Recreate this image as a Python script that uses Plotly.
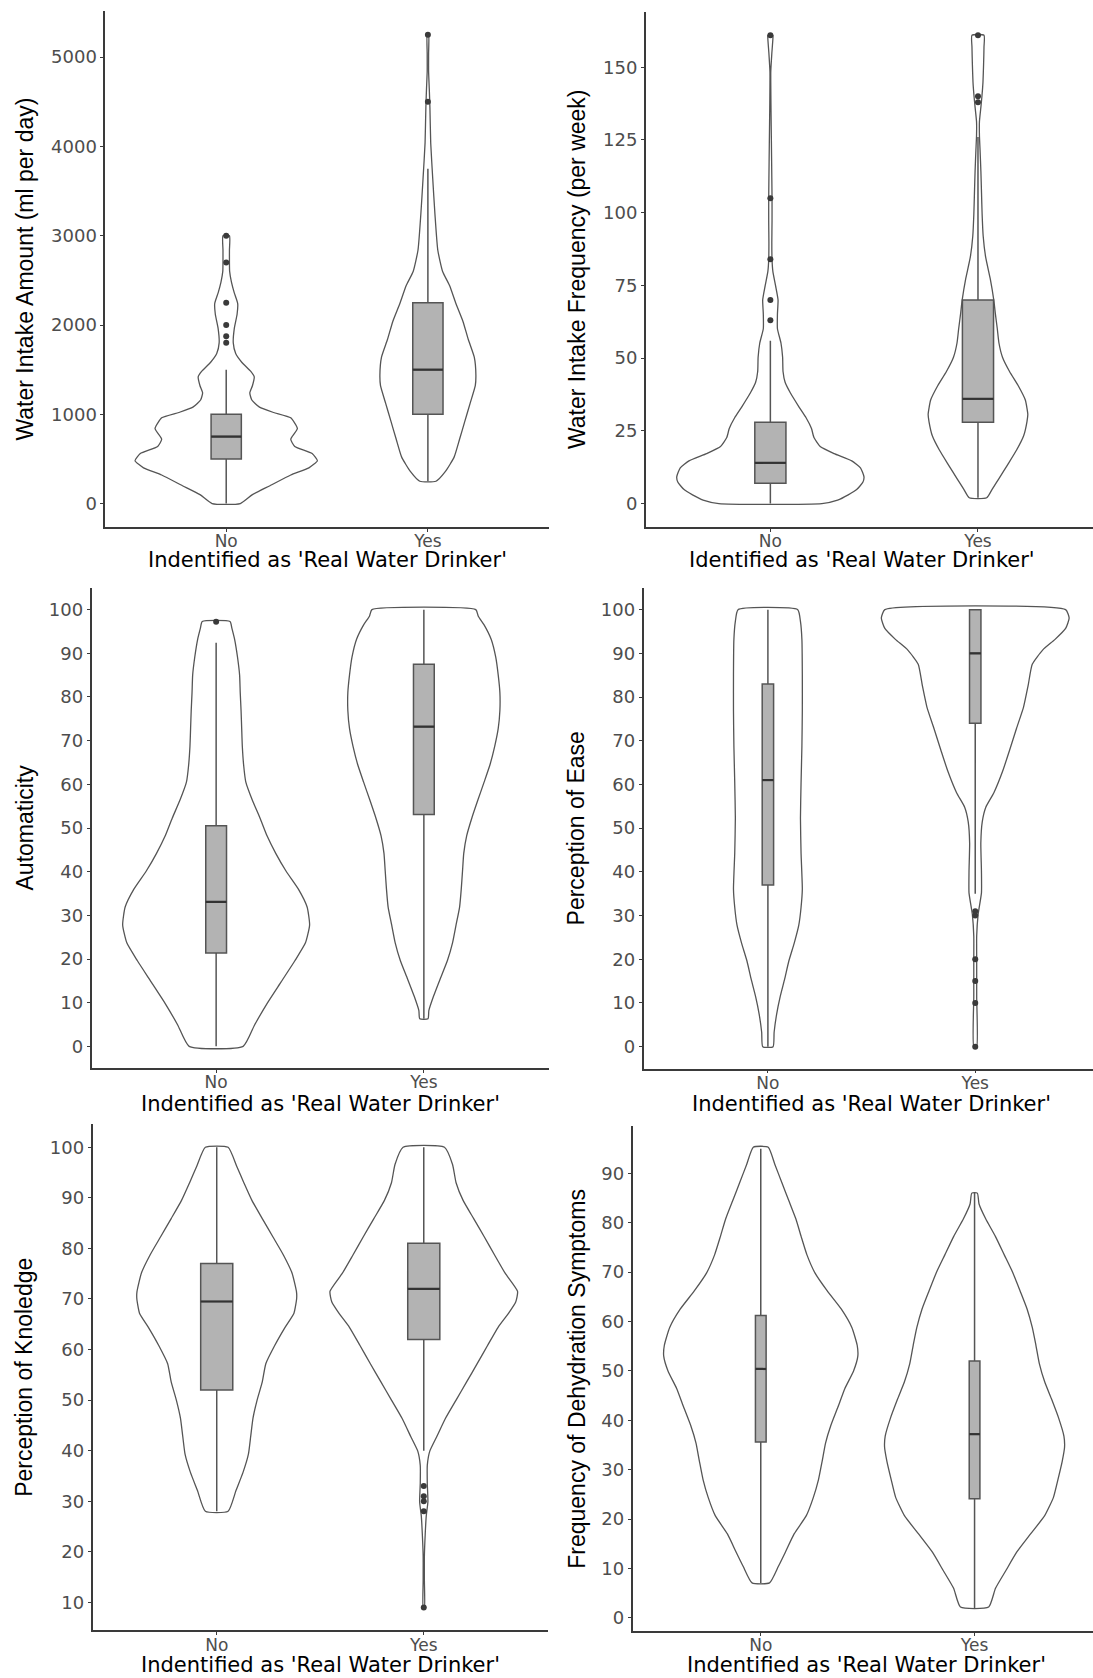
import plotly.graph_objects as go

W, H = 1093, 1678

categories = ["No", "Yes"]
x_title = "Indentified as 'Real Water Drinker'"
x_title_top_right = "Identified as 'Real Water Drinker'"

# ---------------- Panel 1: Water Intake Amount ----------------
p1_title = "Water Intake Amount (ml per day)"
p1_ticks = [0, 1000, 2000, 3000, 4000, 5000]
p1_no_y = [0, 100, 200, 320, 400, 480, 560, 640, 720, 840, 960, 1020, 1080, 1160, 1240, 1320,
           1420, 1480, 1580, 1680, 1800, 1960, 2120, 2240, 2360, 2480, 2600, 2700, 2840, 3000]
p1_no_w = [0.07, 0.13, 0.217, 0.32, 0.41, 0.452, 0.426, 0.34, 0.32, 0.353, 0.32, 0.235, 0.165, 0.127,
           0.117, 0.13, 0.139, 0.122, 0.078, 0.047, 0.035, 0.04, 0.054, 0.057, 0.04, 0.026, 0.017,
           0.016, 0.016, 0.016]
p1_yes_y = [250, 360, 520, 720, 920, 1120, 1320, 1440, 1640, 1840, 2040, 2240, 2440, 2600, 2840,
            3240, 3640, 4040, 4440, 4640, 4840, 5040, 5250]
p1_yes_w = [0.04, 0.087, 0.13, 0.157, 0.183, 0.209, 0.235, 0.238, 0.23, 0.2, 0.174, 0.139, 0.108,
            0.073, 0.049, 0.035, 0.024, 0.014, 0.01, 0.007, 0.0035, 0.0035, 0.0035]
p1_box = {"q1": [500, 1000], "median": [750, 1500], "q3": [1000, 2250],
          "lower": [0, 250], "upper": [1500, 3750]}
p1_out_no = [1800, 1875, 2000, 2250, 2700, 3000]
p1_out_yes = [4500, 5250]

# ---------------- Panel 2: Water Intake Frequency ----------------
p2_title = "Water Intake Frequency (per week)"
p2_ticks = [0, 25, 50, 75, 100, 125, 150]
p2_no_y = [0, 1.2, 3, 4.9, 7.4, 9.2, 12.3, 14.7, 17.2, 19.6, 22.7, 25.8, 29.5, 33.1, 38.1, 41.7,
           45.4, 50.3, 55.2, 60.1, 65.1, 70, 74.9, 79.8, 83.8, 89.6, 97, 105, 111.7, 124, 136,
           148.5, 154.7, 159.6, 161]
p2_no_w = [0.248, 0.324, 0.375, 0.417, 0.446, 0.451, 0.434, 0.392, 0.307, 0.24, 0.21, 0.198, 0.172,
           0.139, 0.096, 0.071, 0.061, 0.059, 0.051, 0.034, 0.034, 0.037, 0.025, 0.012, 0.008,
           0.007, 0.008, 0.008, 0.007, 0.005, 0.003, 0.002, 0.007, 0.012, 0.012]
p2_yes_y = [2, 4.9, 8.6, 13.5, 18.4, 23.3, 28.2, 30.7, 35.6, 40.5, 45.4, 50.3, 55.2, 60.1, 65.1,
            70, 77.3, 84.7, 92, 99.4, 106.8, 114.2, 121.5, 126.4, 131.3, 136.3, 140, 144.8, 151,
            157, 161]
p2_yes_w = [0.042, 0.068, 0.101, 0.144, 0.186, 0.22, 0.236, 0.24, 0.228, 0.194, 0.152, 0.118,
            0.101, 0.093, 0.084, 0.076, 0.059, 0.037, 0.025, 0.02, 0.017, 0.014, 0.01, 0.007,
            0.007, 0.014, 0.019, 0.024, 0.027, 0.029, 0.029]
p2_box = {"q1": [7, 28], "median": [14, 36], "q3": [28, 70],
          "lower": [0, 2], "upper": [56, 126]}
p2_out_no = [63, 70, 84, 105, 161]
p2_out_yes = [138, 140, 161]

# ---------------- Panel 3: Automaticity ----------------
p3_title = "Automaticity"
p3_ticks = [0, 10, 20, 30, 40, 50, 60, 70, 80, 90, 100]
p3_no_y = [0, 4.9, 9.8, 14.7, 19.6, 23.7, 27.8, 31.9, 36, 40.1, 44.2, 48.2, 52.3, 56.4, 60.5,
           64.6, 68.7, 72.8, 76.9, 81, 85, 89.1, 93.2, 95.7, 97.3]
p3_no_w = [0.13, 0.185, 0.245, 0.312, 0.379, 0.43, 0.45, 0.438, 0.396, 0.337, 0.287, 0.245, 0.211,
           0.174, 0.143, 0.132, 0.126, 0.123, 0.12, 0.116, 0.113, 0.103, 0.089, 0.076, 0.067]
p3_yes_y = [6.3, 8.2, 11.4, 15.5, 19.6, 23.7, 27.8, 31.9, 36, 40.1, 44.2, 48.2, 52.3, 56.4, 60.5,
            64.6, 68.7, 72.8, 76.9, 81, 85, 89.1, 93.2, 96.5, 98.5, 100]
p3_yes_w = [0.02, 0.024, 0.046, 0.079, 0.113, 0.138, 0.155, 0.172, 0.18, 0.186, 0.192, 0.206,
            0.231, 0.26, 0.29, 0.319, 0.341, 0.358, 0.366, 0.366, 0.358, 0.346, 0.324, 0.29,
            0.262, 0.25]
p3_box = {"q1": [21.4, 53.1], "median": [33.1, 73.2], "q3": [50.5, 87.5],
          "lower": [0, 6.3], "upper": [92.4, 100]}
p3_out_no = [97.2]
p3_out_yes = []

# ---------------- Panel 4: Perception of Ease ----------------
p4_title = "Perception of Ease"
p4_ticks = [0, 10, 20, 30, 40, 50, 60, 70, 80, 90, 100]
p4_no_y = [0, 3.3, 7.4, 11.4, 15.5, 19.6, 23.7, 27.8, 31.9, 36, 44.2, 52.3, 60.5, 68.7, 76.9,
           85, 93.2, 97.3, 100]
p4_no_w = [0.025, 0.03, 0.042, 0.059, 0.081, 0.101, 0.127, 0.149, 0.16, 0.166, 0.16, 0.157, 0.16,
           0.164, 0.166, 0.166, 0.164, 0.157, 0.144]
p4_yes_y = [0, 11.4, 19.6, 25.3, 30.3, 35.2, 40.1, 46.6, 51.5, 54.8, 58.1, 63, 67.9, 72.8, 77.7,
            82.6, 87.5, 90.8, 93.2, 95.7, 98.1, 100]
p4_yes_w = [0.007, 0.007, 0.007, 0.007, 0.014, 0.03, 0.03, 0.027, 0.034, 0.051, 0.09, 0.132,
            0.166, 0.199, 0.233, 0.255, 0.275, 0.326, 0.385, 0.436, 0.453, 0.436]
p4_box = {"q1": [37, 74], "median": [61, 90], "q3": [83, 100],
          "lower": [0, 35], "upper": [100, 100]}
p4_out_no = []
p4_out_yes = [0, 10, 15, 20, 30, 31]

# ---------------- Panel 5: Perception of Knoledge ----------------
p5_title = "Perception of Knoledge"
p5_ticks = [10, 20, 30, 40, 50, 60, 70, 80, 90, 100]
p5_no_y = [28, 32.1, 35.7, 39.3, 42.8, 46.4, 50, 53.6, 57.2, 60.8, 64.4, 67.2, 70.1, 71.5, 75.1,
           78.7, 82.3, 85.9, 89.5, 93, 96.2, 100]
p5_no_w = [0.055, 0.093, 0.127, 0.153, 0.164, 0.175, 0.195, 0.22, 0.237, 0.28, 0.33, 0.373, 0.386,
           0.385, 0.364, 0.322, 0.271, 0.22, 0.17, 0.131, 0.097, 0.055]
p5_yes_y = [9, 14.2, 19.2, 23.5, 27.1, 29.9, 33.5, 37.1, 39.9, 42.8, 46.4, 50, 53.6, 57.2, 60.8,
            64.4, 67.2, 69.4, 71.5, 75.1, 78.7, 82.3, 85.9, 89.5, 93, 96.6, 100]
p5_yes_w = [0.003, 0.003, 0.003, 0.007, 0.012, 0.02, 0.017, 0.017, 0.029, 0.063, 0.105, 0.156,
            0.207, 0.258, 0.308, 0.359, 0.41, 0.444, 0.453, 0.393, 0.342, 0.292, 0.241, 0.19,
            0.156, 0.139, 0.1]
p5_box = {"q1": [52, 62], "median": [69.5, 72], "q3": [77, 81],
          "lower": [28, 40], "upper": [100, 100]}
p5_out_no = []
p5_out_yes = [9, 28, 30, 31, 33]

# ---------------- Panel 6: Frequency of Dehydration Symptoms ----------------
p6_title = "Frequency of Dehydration Symptoms"
p6_ticks = [0, 10, 20, 30, 40, 50, 60, 70, 80, 90]
p6_no_y = [7.1, 10.4, 13.3, 17, 20.7, 24.4, 28, 31.7, 35.4, 39, 42.7, 46.4, 50, 53, 55.2, 58.8,
           62.5, 66.2, 69.8, 73.5, 77.2, 80.8, 84.5, 88.2, 91.8, 95.3]
p6_no_w = [0.041, 0.082, 0.115, 0.156, 0.213, 0.246, 0.27, 0.287, 0.303, 0.328, 0.361, 0.393,
           0.434, 0.454, 0.451, 0.426, 0.377, 0.311, 0.254, 0.216, 0.189, 0.164, 0.131, 0.098,
           0.066, 0.035]
p6_yes_y = [2.2, 6, 9.7, 13.3, 17, 20.7, 24.4, 28, 31.7, 34.6, 36.8, 40.5, 44.2, 47.8, 51.5, 55.2,
            58.8, 62.5, 66.2, 69.8, 73.5, 77.2, 80.8, 83.8, 86]
p6_yes_w = [0.066, 0.098, 0.148, 0.197, 0.262, 0.328, 0.369, 0.39, 0.41, 0.421, 0.418, 0.393,
            0.361, 0.328, 0.303, 0.287, 0.27, 0.246, 0.213, 0.18, 0.139, 0.098, 0.052, 0.021,
            0.013]
p6_box = {"q1": [35.6, 24.1], "median": [50.4, 37.2], "q3": [61.2, 52],
          "lower": [7, 2], "upper": [95, 86]}
p6_out_no = []
p6_out_yes = []

# ---------------- layout geometry (pixels) ----------------
panels = [
    dict(title=p1_title, xt=x_title, ticks=p1_ticks, yr=[-262.5, 5512.5], xr=[-0.6, 1.6],
         px=[105.2, 548.9], py=[11.4, 527.0], ytx=25.4, xtx=327, xty=560,
         no=(p1_no_y, p1_no_w), yes=(p1_yes_y, p1_yes_w), box=p1_box, bw=0.15,
         out=(p1_out_no, p1_out_yes)),
    dict(title=p2_title, xt=x_title_top_right, ticks=p2_ticks, yr=[-8.05, 169.05], xr=[-0.6, 1.554],
         px=[645.8, 1093], py=[11.8, 527.0], ytx=577.7, xtx=862, xty=560,
         no=(p2_no_y, p2_no_w), yes=(p2_yes_y, p2_yes_w), box=p2_box, bw=0.15,
         out=(p2_out_no, p2_out_yes)),
    dict(title=p3_title, xt=x_title, ticks=p3_ticks, yr=[-5, 105], xr=[-0.6, 1.6],
         px=[91.5, 548.5], py=[587.8, 1068.2], ytx=24.5, xtx=320, xty=1104,
         no=(p3_no_y, p3_no_w), yes=(p3_yes_y, p3_yes_w), box=p3_box, bw=0.1,
         out=(p3_out_no, p3_out_yes)),
    dict(title=p4_title, xt=x_title, ticks=p4_ticks, yr=[-5, 105], xr=[-0.6, 1.568],
         px=[643.5, 1093], py=[587.8, 1068.5], ytx=576.3, xtx=871, xty=1104,
         no=(p4_no_y, p4_no_w), yes=(p4_yes_y, p4_yes_w), box=p4_box, bw=0.055,
         out=(p4_out_no, p4_out_yes)),
    dict(title=p5_title, xt=x_title, ticks=p5_ticks, yr=[4.45, 104.55], xr=[-0.6, 1.6],
         px=[92.5, 548.0], py=[1124.3, 1630.4], ytx=24.5, xtx=320, xty=1665,
         no=(p5_no_y, p5_no_w), yes=(p5_yes_y, p5_yes_w), box=p5_box, bw=0.155,
         out=(p5_out_no, p5_out_yes)),
    dict(title=p6_title, xt=x_title, ticks=p6_ticks, yr=[-2.65, 99.65], xr=[-0.6, 1.554],
         px=[632.5, 1093], py=[1125.7, 1631.0], ytx=577.4, xtx=866, xty=1665,
         no=(p6_no_y, p6_no_w), yes=(p6_yes_y, p6_yes_w), box=p6_box, bw=0.05,
         out=(p6_out_no, p6_out_yes)),
]

FONT_Y = "Liberation Sans, Arial, Helvetica, sans-serif"
FONT_H = "DejaVu Sans, Verdana, sans-serif"
AXIS_COL = "#3a3a3a"
OUTLINE = "#555555"
BOXFILL = "#b3b3b3"

fig = go.Figure()
layout = dict(width=W, height=H, margin=dict(l=0, r=0, t=0, b=0),
              paper_bgcolor="white", plot_bgcolor="white", showlegend=False,
              font=dict(family=FONT_H), annotations=[])


def violin_path(center, ys, ws):
    xs = [center + w for w in ws] + [center - w for w in reversed(ws)] + [center + ws[0]]
    yy = list(ys) + list(reversed(ys)) + [ys[0]]
    return xs, yy


for i, p in enumerate(panels, start=1):
    xa = "x" if i == 1 else f"x{i}"
    ya = "y" if i == 1 else f"y{i}"
    xkey = "xaxis" if i == 1 else f"xaxis{i}"
    ykey = "yaxis" if i == 1 else f"yaxis{i}"
    xdom = [p["px"][0] / W, min(p["px"][1] / W, 1.0)]
    ydom = [1 - p["py"][1] / H, 1 - p["py"][0] / H]
    layout[xkey] = dict(domain=xdom, anchor=ya, range=p["xr"], tickvals=[0, 1],
                        ticktext=categories, showgrid=False, zeroline=False, showline=True,
                        linecolor=AXIS_COL, linewidth=1.5, ticks="outside", ticklen=3,
                        tickwidth=1, tickcolor=AXIS_COL, ticklabelstandoff=-5,
                        tickfont=dict(size=17, color="#4d4d4d", family=FONT_H), fixedrange=True)
    layout[ykey] = dict(domain=ydom, anchor=xa, range=p["yr"], tickvals=p["ticks"],
                        showgrid=False, zeroline=False, showline=True, linecolor=AXIS_COL,
                        linewidth=1.5, ticks="outside", ticklen=3, tickwidth=1,
                        tickcolor=AXIS_COL,
                        tickfont=dict(size=18, color="#4d4d4d", family=FONT_H), fixedrange=True)

    # boxes (drawn in the box layer, beneath the violin outlines)
    b = p["box"]
    for k, c in enumerate([0, 1]):
        fig.add_trace(go.Box(x=[c], q1=[b["q1"][k]], median=[b["median"][k]], q3=[b["q3"][k]],
                             lowerfence=[b["lower"][k]], upperfence=[b["upper"][k]],
                             orientation="v", width=p["bw"], whiskerwidth=0, boxpoints=False,
                             fillcolor=BOXFILL, line=dict(color=OUTLINE, width=1.5),
                             xaxis=xa, yaxis=ya, hoverinfo="skip"))
    # violin outlines
    for c, (vy, vw) in zip([0, 1], [p["no"], p["yes"]]):
        xs, yy = violin_path(c, vy, vw)
        fig.add_trace(go.Scatter(x=xs, y=yy, mode="lines",
                                 line=dict(color=OUTLINE, width=1.3, shape="spline", smoothing=0.5),
                                 xaxis=xa, yaxis=ya, hoverinfo="skip"))
    # medians
    for k, c in enumerate([0, 1]):
        fig.add_trace(go.Scatter(x=[c - p["bw"] / 2, c + p["bw"] / 2],
                                 y=[b["median"][k], b["median"][k]], mode="lines",
                                 line=dict(color="#333333", width=2.2),
                                 xaxis=xa, yaxis=ya, hoverinfo="skip"))
    # outliers
    for c, pts in zip([0, 1], p["out"]):
        if pts:
            fig.add_trace(go.Scatter(x=[c] * len(pts), y=pts, mode="markers",
                                     marker=dict(color="#3a3a3a", size=6),
                                     xaxis=xa, yaxis=ya, hoverinfo="skip"))

    # titles
    layout["annotations"].append(dict(
        text=p["title"], x=p["ytx"] / W, y=1 - (p["py"][0] + p["py"][1]) / 2 / H,
        xref="paper", yref="paper", textangle=-90, showarrow=False,
        xanchor="center", yanchor="middle", font=dict(size=23, color="black", family=FONT_Y)))
    layout["annotations"].append(dict(
        text=p["xt"], x=p["xtx"] / W, y=1 - p["xty"] / H,
        xref="paper", yref="paper", showarrow=False,
        xanchor="center", yanchor="middle", font=dict(size=21, color="black", family=FONT_H)))

fig.update_layout(**layout)
fig.write_html("out.html")
